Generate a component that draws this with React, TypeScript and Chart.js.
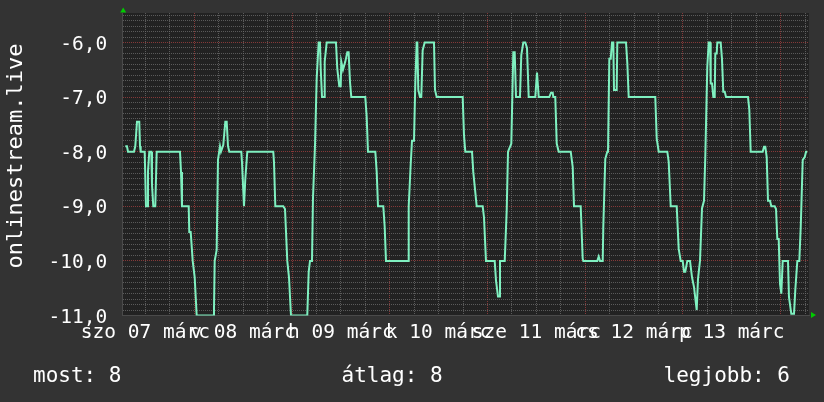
import React, { useEffect, useRef } from 'react';
import { Chart, registerables } from 'chart.js';

Chart.register(...registerables);

// Time in hours since 2020-03-07 00:00
const hours = [
  7.06, 7.47, 7.72, 9.19, 9.51, 9.93, 10.49, 10.67, 10.84, 11.82, 12.14, 12.46, 12.63, 12.95, 13.44, 13.61, 13.93, 14.42, 14.77,
  20.49, 20.74, 20.98, 22.63, 22.77, 23.12, 23.61, 24.1, 24.59, 28.67, 28.84, 29.01, 29.5, 29.82, 30.31, 30.56, 31.12, 31.62,
  31.96, 32.28, 32.6, 35.55, 35.72, 36.21, 36.53, 37.02, 43.4, 43.58, 43.9, 45.86, 46.28, 46.84, 47.26, 47.75, 51.75, 52.1,
  52.42, 52.91, 53.15, 53.65, 54.06, 54.55, 54.87, 55.05, 55.37, 55.86, 56.03, 56.52, 58.8, 59.12, 59.61, 59.96, 60.1, 60.52,
  61.09, 61.58, 61.9, 62.24, 62.56, 66.0, 66.34, 66.66, 68.46, 68.8, 69.12, 70.42, 70.76, 71.08, 76.49, 76.66, 77.15, 77.47,
  77.96, 78.28, 78.62, 78.77, 79.02, 79.43, 79.75, 80.09, 80.59, 82.87, 83.12, 83.54, 89.92, 90.24, 90.56, 92.21, 92.52, 93.36,
  94.83, 95.15, 95.64, 97.78, 98.1, 98.59, 98.84, 99.08, 100.24, 100.73, 101.05, 101.86, 102.35, 102.69, 103.01, 103.99,
  104.31, 104.8, 105.3, 105.71, 106.13, 107.75, 108.17, 108.59, 111.19, 111.61, 112.03, 112.17, 112.66, 113.01, 113.5,
  116.45, 116.94, 117.26, 118.9, 119.39, 119.54, 122.98, 123.32, 123.64, 124.31, 124.45, 124.94, 125.43, 125.61, 125.93,
  126.27, 126.59, 126.91, 127.08, 127.74, 127.89, 130.03, 130.35, 130.69, 137.22, 137.57, 138.06, 140.17, 140.51, 141.01,
  142.48, 142.97, 143.46, 143.95, 144.27, 144.59, 145.08, 145.75, 146.24, 146.73, 147.39, 147.71, 148.2, 148.69, 149.18,
  149.5, 149.99, 150.34, 150.66, 150.83, 151.15, 151.47, 151.81, 151.96, 152.3, 152.45, 153.28, 153.6, 153.92, 154.27,
  154.59, 159.99, 160.31, 160.65, 163.6, 163.92, 164.24, 164.58, 164.9, 165.39, 165.71, 166.55, 166.87, 167.19, 167.53,
  167.85, 168.17, 168.51, 169.49, 169.81, 170.05, 170.62, 171.29, 171.6, 172.1, 172.59, 172.94, 173.43, 173.92, 174.24, 174.55,
];

const values = [
  -7.9, -7.9, -8.0, -8.0, -7.9, -7.45, -7.45, -7.9, -8.0, -8.0, -9.0, -9.0, -8.37, -8.0, -8.0, -8.6, -9.0, -9.0, -8.0,
  -8.0, -8.37, -9.0, -9.0, -9.47, -9.47, -10.0, -10.3, -11.0, -11.0, -10.9, -10.0, -9.8, -8.15, -7.9, -8.0, -7.88, -7.45,
  -7.45, -7.9, -8.0, -8.0, -8.2, -9.0, -8.5, -8.0, -8.0, -8.2, -9.0, -9.0, -9.05, -10.0, -10.3, -11.0, -11.0, -10.2,
  -10.0, -10.0, -8.86, -7.88, -6.66, -6.0, -6.0, -6.48, -7.0, -7.0, -6.35, -6.0, -6.0, -6.48, -6.8, -6.8, -6.35, -6.5,
  -6.35, -6.18, -6.18, -6.72, -7.0, -7.0, -7.36, -8.0, -8.0, -8.37, -9.0, -9.0, -9.37, -10.0, -10.0, -9.0, -8.23, -7.8,
  -7.8, -6.75, -6.0, -6.0, -6.87, -7.0, -7.0, -6.14, -6.0, -6.0, -6.87, -7.0, -7.0, -7.7, -8.0, -8.0, -8.37, -9.0,
  -9.0, -9.2, -10.0, -10.0, -10.36, -10.65, -10.65, -10.0, -10.0, -9.07, -8.0, -7.85, -6.18, -6.18, -7.0, -7.0,
  -6.23, -6.0, -6.0, -6.1, -7.0, -7.0, -6.55, -7.0, -7.0, -6.92, -6.92, -7.0, -7.0, -7.85, -8.0,
  -8.0, -8.28, -9.0, -9.0, -9.96, -10.0, -10.0, -9.92, -10.0, -10.0, -9.38, -8.13, -8.0, -8.0, -6.3,
  -6.3, -6.0, -6.0, -6.87, -6.87, -6.0, -6.0, -6.38, -7.0, -7.0, -7.76, -8.0, -8.0, -8.18, -9.0,
  -9.0, -9.78, -10.0, -10.0, -10.2, -10.2, -10.0, -10.0, -10.3, -10.48, -10.9, -10.33, -10.0, -9.04, -8.9,
  -8.1, -6.45, -6.0, -6.0, -6.75, -6.75, -7.0, -7.0, -6.2, -6.2, -6.0, -6.0, -6.3, -6.9, -6.9,
  -7.0, -7.0, -7.23, -8.0, -8.0, -7.91, -7.91, -8.1, -8.9, -8.9, -9.0, -9.0, -9.05, -9.6, -9.6,
  -10.42, -10.6, -10.0, -10.0, -10.0, -10.66, -10.97, -10.97, -10.54, -10.0, -10.0, -9.38, -8.15, -8.1, -8.0, -8.0,
];

const dayLabels = ['szo 07 márc', 'v 08 márc', 'h 09 márc', 'k 10 márc', 'sze 11 márc', 'cs 12 márc', 'p 13 márc'];
const dayLabelHours = [12, 36, 60, 84, 108, 132, 156];
const xGridHours = [12, 18, 24, 30, 36, 42, 48, 54, 60, 66, 72, 78, 84, 90, 96, 102, 108, 114, 120, 126, 132, 138, 144, 150, 156, 162, 168, 174];
const yTitle = 'onlinestream.live';
const legendTexts = ['most: 8', 'átlag: 8', 'legjobb: 6'];

const X_MIN = 6.42;
const X_MAX = 174.97;
const Y_MIN = -11;
const Y_MAX = -5.46;

const FONT = 'DejaVu Sans Mono';
const BG = '#333333';
const PLOT_BG = '#222222';
const GRID_MINOR = 'rgba(110,110,110,0.75)';
const GRID_MAJOR = 'rgba(150,60,60,0.85)';
const LINE = '#7ff0c0';
const ARROW = '#00cc00';

const decor = {
  id: 'decor',
  beforeDraw(chart: any) {
    const { ctx, chartArea: a } = chart;
    ctx.save();
    ctx.fillStyle = BG;
    ctx.fillRect(0, 0, chart.width, chart.height);
    ctx.fillStyle = PLOT_BG;
    ctx.fillRect(a.left, a.top, a.right - a.left, a.bottom - a.top);
    ctx.restore();
  },
  afterDraw(chart: any) {
    const { ctx, chartArea: a } = chart;
    ctx.save();
    ctx.fillStyle = '#ffffff';
    ctx.font = `22px "${FONT}"`;
    ctx.textAlign = 'center';
    ctx.textBaseline = 'middle';
    ctx.translate(16, 156);
    ctx.rotate(-Math.PI / 2);
    ctx.fillText(yTitle, 0, 0);
    ctx.restore();

    ctx.save();
    ctx.fillStyle = '#ffffff';
    ctx.font = `21px "${FONT}"`;
    ctx.textBaseline = 'alphabetic';
    ctx.textAlign = 'left';
    ctx.fillText(legendTexts[0], 33, 381.5);
    ctx.fillText(legendTexts[1], 341.5, 381.5);
    ctx.textAlign = 'right';
    ctx.fillText(legendTexts[2], 790, 381.5);

    ctx.fillStyle = ARROW;
    ctx.beginPath();
    ctx.moveTo(a.left - 2.5, a.top - 0.5);
    ctx.lineTo(a.left + 3.5, a.top - 0.5);
    ctx.lineTo(a.left + 0.5, a.top - 5.5);
    ctx.closePath();
    ctx.fill();
    ctx.beginPath();
    ctx.moveTo(a.right + 2, a.bottom - 3.5);
    ctx.lineTo(a.right + 2, a.bottom + 2.5);
    ctx.lineTo(a.right + 7, a.bottom - 0.5);
    ctx.closePath();
    ctx.fill();
    ctx.restore();
  },
};

export default function App() {
  const ref = useRef<HTMLCanvasElement | null>(null);
  useEffect(() => {
    if (!ref.current) return;
    const chart = new Chart(ref.current, {
      type: 'line',
      data: {
        datasets: [
          {
            data: hours.map((h, i) => ({ x: h, y: values[i] })),
            borderColor: LINE,
            borderWidth: 2,
            pointRadius: 0,
            tension: 0,
            fill: false,
          },
        ],
      },
      options: {
        responsive: false,
        animation: false,
        devicePixelRatio: 1,
        layout: { padding: { left: 0, right: 15, top: 13, bottom: 0 } },
        plugins: { legend: { display: false }, tooltip: { enabled: false } },
        scales: {
          x: {
            type: 'linear',
            min: X_MIN,
            max: X_MAX,
            afterBuildTicks: (s: any) => {
              s.ticks = xGridHours.map((v) => ({ value: v }));
            },
            afterFit: (s: any) => {
              s.height = 86.5;
              s.paddingLeft = 0;
              s.paddingRight = 0;
            },
            ticks: {
              autoSkip: false,
              maxRotation: 0,
              minRotation: 0,
              color: '#ffffff',
              padding: 5.5,
              font: { family: FONT, size: 19.5 },
              callback: (v: any) => {
                const i = dayLabelHours.indexOf(Number(v));
                return i >= 0 ? dayLabels[i] : '';
              },
            },
            grid: {
              drawTicks: false,
              lineWidth: 1,
              color: (ctx: any) => (ctx.tick && ctx.tick.value % 24 === 0 ? GRID_MAJOR : GRID_MINOR),
            },
            border: { display: true, color: '#4a4a4a', dash: [1, 1] },
          },
          y: {
            type: 'linear',
            min: Y_MIN,
            max: Y_MAX,
            afterBuildTicks: (s: any) => {
              const t: any[] = [];
              for (let i = 0; i <= 55; i++) t.push({ value: Math.round((Y_MIN + i * 0.1) * 10) / 10 });
              s.ticks = t;
            },
            afterFit: (s: any) => {
              s.width = 122.7;
              s.paddingTop = 0;
              s.paddingBottom = 0;
            },
            ticks: {
              autoSkip: false,
              color: '#ffffff',
              padding: 15.4,
              labelOffset: 2,
              font: { family: FONT, size: 19.5 },
              callback: (v: any) => {
                const n = Number(v);
                if (Math.abs(n - Math.round(n)) < 1e-6) return n.toFixed(1).replace('.', ',');
                return '';
              },
            },
            grid: {
              drawTicks: false,
              lineWidth: 1,
              color: (ctx: any) => {
                const n = ctx.tick ? ctx.tick.value : 0;
                return Math.abs(n - Math.round(n)) < 1e-6 ? GRID_MAJOR : GRID_MINOR;
              },
            },
            border: { display: true, color: '#4a4a4a', dash: [1, 1] },
          },
        },
      },
      plugins: [decor],
    } as any);
    return () => chart.destroy();
  }, []);

  return (
    <div style={{ position: 'fixed', left: 0, top: 0, width: 824, height: 402, background: BG }}>
      <canvas ref={ref} width={824} height={402} style={{ display: 'block', width: 824, height: 402 }} />
    </div>
  );
}
